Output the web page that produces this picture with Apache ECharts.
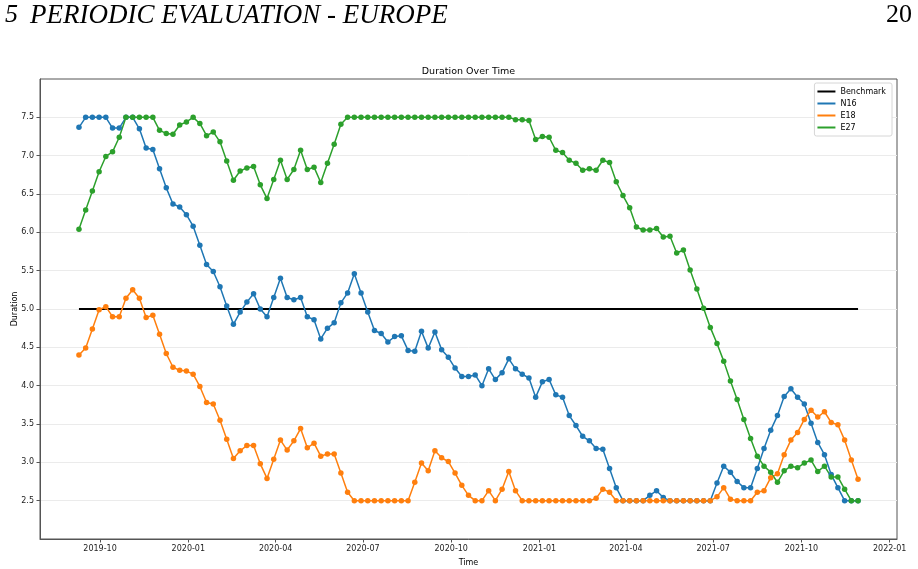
<!DOCTYPE html>
<html>
<head>
<meta charset="utf-8">
<script src="https://cdn.jsdelivr.net/npm/echarts@6/dist/echarts.min.js"></script>
<style>
  html, body { margin: 0; padding: 0; background: #fff; }
  #main { width: 918px; height: 569px; }
</style>
</head>
<body>
<div id="main"></div>
<script>
// weekly sample dates
var dates = [
  '2019-09-09','2019-09-16','2019-09-23','2019-09-30','2019-10-07','2019-10-14','2019-10-21','2019-10-28',
  '2019-11-04','2019-11-11','2019-11-18','2019-11-25','2019-12-02','2019-12-09','2019-12-16','2019-12-23','2019-12-30',
  '2020-01-06','2020-01-13','2020-01-20','2020-01-27','2020-02-03','2020-02-10','2020-02-17','2020-02-24',
  '2020-03-02','2020-03-09','2020-03-16','2020-03-23','2020-03-30','2020-04-06','2020-04-13','2020-04-20','2020-04-27',
  '2020-05-04','2020-05-11','2020-05-18','2020-05-25','2020-06-01','2020-06-08','2020-06-15','2020-06-22','2020-06-29',
  '2020-07-06','2020-07-13','2020-07-20','2020-07-27','2020-08-03','2020-08-10','2020-08-17','2020-08-24','2020-08-31',
  '2020-09-07','2020-09-14','2020-09-21','2020-09-28','2020-10-05','2020-10-12','2020-10-19','2020-10-26',
  '2020-11-02','2020-11-09','2020-11-16','2020-11-23','2020-11-30','2020-12-07','2020-12-14','2020-12-21','2020-12-28',
  '2021-01-04','2021-01-11','2021-01-18','2021-01-25','2021-02-01','2021-02-08','2021-02-15','2021-02-22',
  '2021-03-01','2021-03-08','2021-03-15','2021-03-22','2021-03-29','2021-04-05','2021-04-12','2021-04-19','2021-04-26',
  '2021-05-03','2021-05-10','2021-05-17','2021-05-24','2021-05-31','2021-06-07','2021-06-14','2021-06-21','2021-06-28',
  '2021-07-05','2021-07-12','2021-07-19','2021-07-26','2021-08-02','2021-08-09','2021-08-16','2021-08-23','2021-08-30',
  '2021-09-06','2021-09-13','2021-09-20','2021-09-27','2021-10-04','2021-10-11','2021-10-18','2021-10-25',
  '2021-11-01','2021-11-08','2021-11-15','2021-11-22','2021-11-29'
];

var n16 = [
  7.37, 7.5, 7.5, 7.5, 7.5, 7.36, 7.36, 7.5, 7.5, 7.35, 7.10, 7.08, 6.83, 6.58, 6.37, 6.33, 6.23,
  6.08, 5.83, 5.58, 5.49, 5.29, 5.04, 4.80, 4.96, 5.09, 5.20, 5.00, 4.90, 5.15, 5.40, 5.15, 5.12,
  5.15, 4.90, 4.86, 4.61, 4.75, 4.82, 5.08, 5.21, 5.46, 5.21, 4.96, 4.72, 4.68, 4.57, 4.64, 4.65,
  4.46, 4.45, 4.71, 4.49, 4.70, 4.47, 4.37, 4.23, 4.12, 4.12, 4.14, 4.00, 4.22, 4.08, 4.17, 4.35,
  4.22, 4.15, 4.10, 3.85, 4.05, 4.08, 3.88, 3.85, 3.61, 3.48, 3.34, 3.28, 3.18, 3.17, 2.92, 2.67,
  2.5, 2.5, 2.5, 2.5, 2.57, 2.63, 2.54, 2.5, 2.5, 2.5, 2.5, 2.5, 2.5, 2.5, 2.73, 2.95, 2.87, 2.75,
  2.67, 2.67, 2.92, 3.18, 3.42, 3.61, 3.86, 3.96, 3.85, 3.76, 3.51, 3.26, 3.10, 2.84, 2.67, 2.5,
  2.5, 2.5
];

var e18 = [
  4.40, 4.49, 4.74, 4.99, 5.03, 4.90, 4.90, 5.14, 5.25, 5.14, 4.89, 4.92, 4.67, 4.42, 4.24, 4.20, 4.19,
  4.15, 3.99, 3.78, 3.76, 3.55, 3.30, 3.05, 3.15, 3.22, 3.22, 2.98, 2.79, 3.04, 3.29, 3.16, 3.28,
  3.44, 3.19, 3.25, 3.08, 3.11, 3.11, 2.86, 2.61, 2.5, 2.5, 2.5, 2.5, 2.5, 2.5, 2.5, 2.5,
  2.5, 2.74, 2.99, 2.89, 3.15, 3.06, 3.01, 2.86, 2.70, 2.57, 2.5, 2.5, 2.63, 2.5, 2.65, 2.88,
  2.63, 2.5, 2.5, 2.5, 2.5, 2.5, 2.5, 2.5, 2.5, 2.5, 2.5, 2.5, 2.53, 2.65, 2.61, 2.5,
  2.5, 2.5, 2.5, 2.5, 2.5, 2.5, 2.5, 2.5, 2.5, 2.5, 2.5, 2.5, 2.5, 2.5, 2.55, 2.67, 2.52, 2.5,
  2.5, 2.5, 2.61, 2.63, 2.80, 2.85, 3.10, 3.29, 3.39, 3.56, 3.68, 3.59, 3.66, 3.52, 3.49, 3.29,
  3.03, 2.78
];

var e27 = [
  6.04, 6.29, 6.54, 6.79, 6.99, 7.05, 7.24, 7.5, 7.5, 7.5, 7.5, 7.5, 7.33, 7.29, 7.28, 7.40, 7.44,
  7.5, 7.42, 7.26, 7.31, 7.18, 6.93, 6.68, 6.80, 6.84, 6.86, 6.62, 6.44, 6.69, 6.94, 6.69, 6.82,
  7.07, 6.82, 6.85, 6.65, 6.90, 7.15, 7.41, 7.5, 7.5, 7.5, 7.5, 7.5, 7.5, 7.5, 7.5, 7.5,
  7.5, 7.5, 7.5, 7.5, 7.5, 7.5, 7.5, 7.5, 7.5, 7.5, 7.5, 7.5, 7.5, 7.5, 7.5, 7.5,
  7.47, 7.47, 7.46, 7.21, 7.25, 7.24, 7.07, 7.04, 6.94, 6.90, 6.81, 6.83, 6.81, 6.94, 6.91, 6.66,
  6.48, 6.32, 6.07, 6.03, 6.03, 6.05, 5.94, 5.95, 5.73, 5.77, 5.51, 5.26, 5.01, 4.76, 4.55, 4.32,
  4.06, 3.82, 3.56, 3.31, 3.08, 2.95, 2.87, 2.74, 2.89, 2.95, 2.93, 2.99, 3.03, 2.88, 2.95, 2.81,
  2.81, 2.65, 2.5, 2.5
];

var benchmark = 5.0;
var xTicks = ['2019-10-01','2020-01-01','2020-04-01','2020-07-01','2020-10-01',
              '2021-01-01','2021-04-01','2021-07-01','2021-10-01','2022-01-01'];
var yTicks = [2.5, 3.0, 3.5, 4.0, 4.5, 5.0, 5.5, 6.0, 6.5, 7.0, 7.5];

// 本地时间解析，避免时区偏移
function toTime(s) {
    var p = s.split('-');
    return new Date(+p[0], +p[1] - 1, +p[2]).getTime();
}
function pairs(vals) {
    return vals.map(function (v, i) { return [toTime(dates[i]), v]; });
}

var t0 = toTime(dates[0]);
var t1 = toTime(dates[dates.length - 1]);
var pad = (t1 - t0) * 0.05;
var font = 'DejaVu Sans';

var myChart = echarts.init(document.getElementById('main'));

var lineSeries = function (name, color, vals) {
    return {
        name: name,
        type: 'line',
        data: pairs(vals),
        symbol: 'circle',
        symbolSize: 5.5,
        showAllSymbol: true,
        lineStyle: { color: color, width: 1.5 },
        itemStyle: { color: color },
        emphasis: { disabled: true }
    };
};

var option = {
    animation: false,
    graphic: [
        { type: 'text', style: { x: 5, y: 2, text: '5', font: 'italic 26px "Liberation Serif"', fill: '#000', textVerticalAlign: 'top' } },
        { type: 'text', style: { x: 30, y: 2, text: 'PERIODIC EVALUATION - EUROPE', font: 'italic 27px "Liberation Serif"', fill: '#000', textVerticalAlign: 'top' } },
        { type: 'text', style: { x: 912, y: 2, text: '20', font: '26px "Liberation Serif"', fill: '#000', textAlign: 'right', textVerticalAlign: 'top' } },
        { type: 'text', style: { x: 468.5, y: 72, text: 'Duration Over Time', font: '9.5px "DejaVu Sans"', fill: '#000', textAlign: 'center', textVerticalAlign: 'middle' } }
    ],
    legend: {
        orient: 'vertical',
        right: 26,
        top: 83,
        backgroundColor: '#fff',
        borderColor: '#d6d6d6',
        borderWidth: 1,
        borderRadius: 2,
        padding: [4, 6, 4, 3],
        itemGap: 3,
        itemWidth: 18,
        itemHeight: 2,
        icon: 'rect',
        textStyle: { fontFamily: font, fontSize: 8, color: '#000', lineHeight: 9 },
        data: ['Benchmark', 'N16', 'E18', 'E27']
    },
    grid: {
        left: 40, right: 21, top: 79, bottom: 30,
        containLabel: false,
        outerBoundsMode: 'none',
        show: true, borderColor: '#555', borderWidth: 1
    },
    xAxis: {
        type: 'value',
        min: t0 - pad,
        max: t1 + pad,
        name: 'Time',
        nameLocation: 'middle',
        nameGap: 20,
        nameMoveOverlap: false,
        nameTextStyle: { fontFamily: font, fontSize: 8, color: '#000' },
        axisLine: { show: true, lineStyle: { color: '#555' } },
        axisTick: { show: true, length: 3.5, lineStyle: { color: '#555' }, customValues: xTicks.map(toTime) },
        axisLabel: {
            fontFamily: font, fontSize: 8, color: '#222', margin: 6,
            customValues: xTicks.map(toTime),
            formatter: function (v) {
                var d = new Date(v);
                var m = d.getMonth() + 1;
                return d.getFullYear() + '-' + (m < 10 ? '0' + m : m);
            }
        },
        splitLine: { show: false }
    },
    yAxis: {
        type: 'value',
        min: 2,
        max: 8,
        interval: 0.5,
        name: 'Duration',
        nameLocation: 'middle',
        nameGap: 21,
        nameMoveOverlap: false,
        nameTextStyle: { fontFamily: font, fontSize: 8, color: '#000' },
        axisLine: { show: true, lineStyle: { color: '#555' } },
        axisTick: { show: true, length: 3.5, lineStyle: { color: '#555' }, customValues: yTicks },
        axisLabel: {
            fontFamily: font, fontSize: 8, color: '#222', margin: 6,
            customValues: yTicks,
            formatter: function (v) { return v.toFixed(1); }
        },
        splitLine: { show: true, lineStyle: { color: '#ebebeb', width: 1 } }
    },
    series: [
        {
            name: 'Benchmark',
            type: 'line',
            data: [[t0, benchmark], [t1, benchmark]],
            symbol: 'none',
            lineStyle: { color: '#000', width: 2 },
            itemStyle: { color: '#000' },
            emphasis: { disabled: true }
        },
        lineSeries('N16', '#1f77b4', n16),
        lineSeries('E18', '#ff7f0e', e18),
        lineSeries('E27', '#2ca02c', e27)
    ]
};

myChart.setOption(option);
</script>
</body>
</html>
